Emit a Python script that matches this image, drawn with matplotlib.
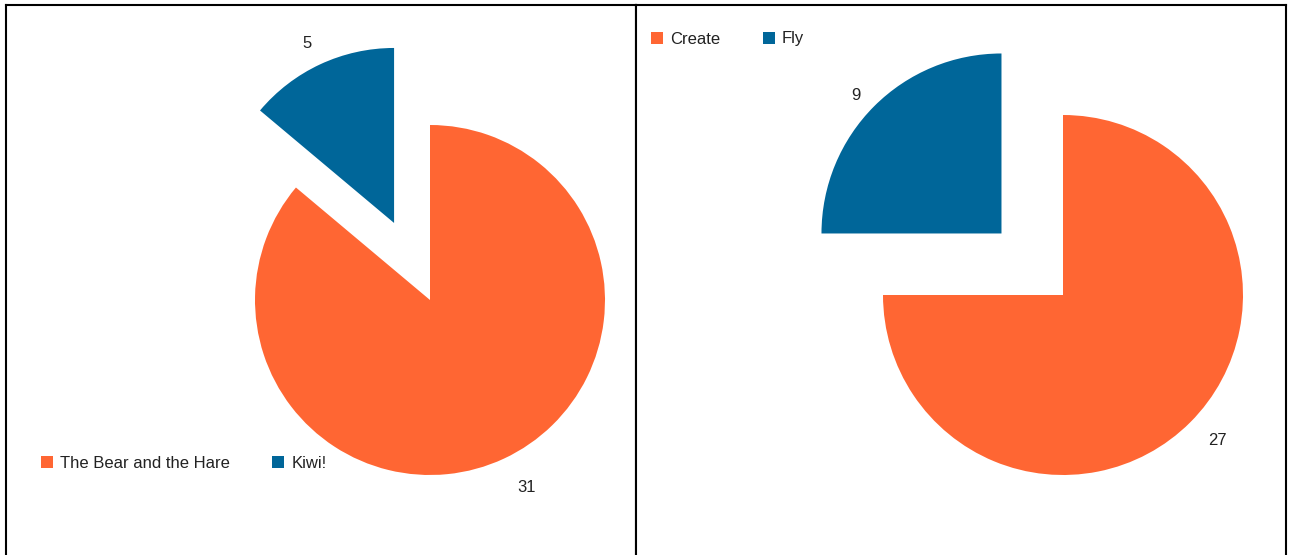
import matplotlib.pyplot as plt

# chart data
left_names = ["The Bear and the Hare", "Kiwi!"]
left_values = [31, 5]
right_names = ["Create", "Fly"]
right_values = [27, 9]

colors = ["#ff6633", "#006699"]
text_color = "#222222"

plt.rcParams["font.family"] = ["Liberation Sans", "DejaVu Sans"]

W, H = 1292, 555
fig = plt.figure(figsize=(W / 100, H / 100), dpi=100)


def panel(x0, x1, cx, cy, radius, explode, labeldist, values, names, leg_xy):
    """One bordered cell with an exploded pie, pixel units, centre at 0,0."""
    top = 5
    ax = fig.add_axes([x0 / W, 0, (x1 - x0) / W, (H - top) / H])

    wedges, texts = ax.pie(values, colors=colors, startangle=90,
                           counterclock=False, radius=radius,
                           explode=[0, explode],
                           labels=[str(v) for v in values],
                           labeldistance=labeldist,
                           textprops=dict(ha="center", va="center",
                                          fontsize=12, color=text_color))
    # value labels hang below / to the right of their anchor point
    for t in texts:
        x, y = t.get_position()
        if x > 0:
            t.set_ha("left")
        if y > 0:
            t.set_va("top")

    ax.set_aspect("auto")
    ax.set_xlim(x0 - cx, x1 - cx)
    ax.set_ylim(-(H - cy), cy - top)
    ax.set_xticks([])
    ax.set_yticks([])
    ax.set_frame_on(True)
    for side in ["left", "top", "right"]:
        ax.spines[side].set_visible(True)
        ax.spines[side].set_color("black")
        ax.spines[side].set_linewidth(1.5)
    ax.spines["bottom"].set_visible(False)

    lx = (leg_xy[0] - x0) / (x1 - x0)
    ly = (H - leg_xy[1]) / (H - top)
    leg = ax.legend(wedges, names, loc="center left", bbox_to_anchor=(lx, ly),
                    ncol=2, frameon=False, fontsize=12, borderpad=0,
                    borderaxespad=0, handlelength=0.72, handleheight=0.72,
                    handletextpad=0.42, columnspacing=2.55)
    for t in leg.get_texts():
        t.set_color(text_color)
    return ax


panel(6, 636, 430, 300, 175, 85, 1.18, left_values, left_names, (41, 463.5))
panel(636, 1286, 1063, 295, 180, 87, 1.14, right_values, right_names, (651, 39))

fig.savefig("out.png", dpi=100)
